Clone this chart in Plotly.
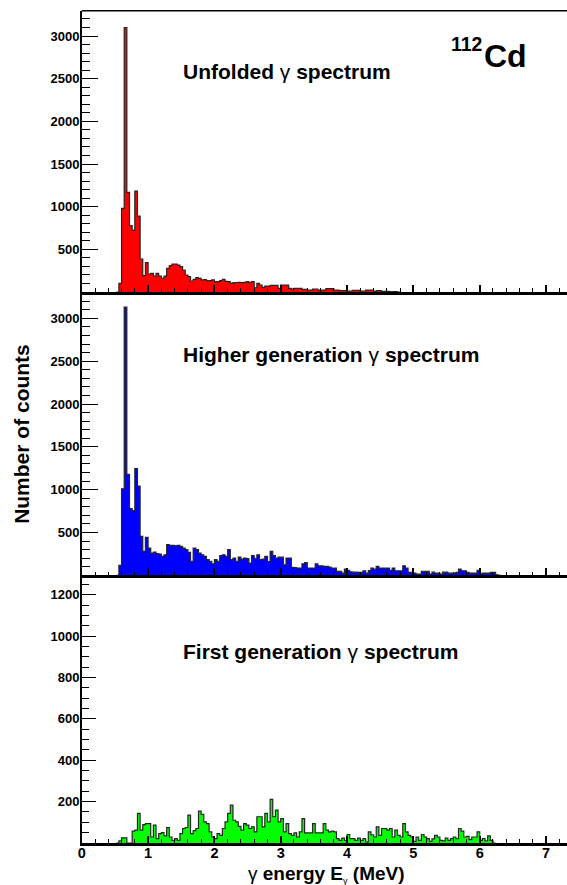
import plotly.graph_objects as go

# ---------------- data (counts per 40 keV bin, bins start at 0.52 MeV) ----------------
bin_start = 0.52
bin_width = 0.04

unfolded = [0, 101, 980, 3100, 1168, 777, 726, 1183, 890, 387, 191, 344, 211, 219, 187, 219,
            187, 160, 187, 277, 308, 328, 328, 316, 297, 258, 199, 180, 129, 148, 168, 160,
            141, 145, 133, 133, 141, 121, 121, 133, 148, 125, 121, 101, 110, 110, 113, 110,
            113, 121, 110, 121, 50, 100, 82, 55, 70, 70, 78, 78, 78, 43, 82, 82,
            82, 43, 35, 43, 43, 43, 31, 31, 23, 23, 35, 35, 23, 23, 23, 39,
            39, 39, 23, 23, 16, 16, 16, 12, 12, 20, 20, 20, 12, 12, 23, 23,
            23, 8, 16, 16, 8, 8, 8, 4, 4, 4, 0]

higher_gen = [0, 117, 1010, 3131, 1178, 780, 757, 1245, 1042, 456, 280, 444, 319, 261, 272, 253,
              249, 222, 241, 358, 350, 350, 346, 350, 339, 319, 300, 269, 163, 319, 300, 261,
              241, 222, 183, 163, 136, 183, 163, 230, 241, 222, 300, 183, 202, 163, 214, 191,
              202, 195, 144, 230, 200, 240, 183, 190, 222, 160, 280, 230, 202, 213, 213, 124,
              202, 202, 93, 90, 85, 85, 136, 150, 85, 85, 85, 136, 112, 112, 105, 105,
              97, 85, 85, 46, 46, 27, 73, 60, 42, 38, 38, 35, 35, 54, 27, 56,
              85, 73, 105, 85, 85, 85, 85, 58, 85, 54, 54, 54, 112, 85, 35, 35,
              27, 15, 15, 46, 46, 46, 15, 38, 27, 27, 15, 38, 38, 27, 27, 27,
              35, 73, 54, 54, 35, 27, 27, 27, 58, 20, 27, 27, 27, 35, 35, 7, 0]

first_gen = [0, 10, 25, 25, 0, 0, 57, 62, 143, 62, 89, 94, 94, 29, 86, 21,
             45, 50, 34, 75, 29, 13, 21, 13, 45, 70, 75, 135, 45, 60, 70, 154,
             138, 102, 94, 54, 29, 21, 45, 37, 70, 102, 143, 183, 110, 102, 80, 62,
             94, 86, 70, 78, 54, 127, 127, 78, 143, 102, 211, 127, 159, 102, 118, 54,
             94, 45, 37, 49, 29, 54, 118, 49, 49, 49, 94, 49, 49, 49, 94, 62,
             54, 57, 54, 21, 13, 24, 13, 41, 21, 21, 13, 24, 13, 21, 5, 54,
             40, 29, 78, 37, 70, 70, 62, 70, 29, 62, 37, 29, 94, 54, 37, 29,
             8, 29, 13, 41, 29, 21, 8, 20, 37, 29, 13, 10, 24, 13, 21, 29,
             21, 70, 57, 29, 32, 16, 29, 29, 54, 13, 21, 10, 34, 13, 0]

x_ticks = [0, 1, 2, 3, 4, 5, 6, 7]
y_ticks_top = [500, 1000, 1500, 2000, 2500, 3000]
y_ticks_bottom = [200, 400, 600, 800, 1000, 1200]

panel_labels = ["<b>Unfolded</b> γ <b>spectrum</b>",
                "<b>Higher generation</b> γ <b>spectrum</b>",
                "<b>First generation</b> γ <b>spectrum</b>"]

# ---------------- layout helpers ----------------
W, H = 567, 885
FONT = "Liberation Sans, Arial, Helvetica, sans-serif"
X_MAX = 7.316


def px_x(p):
    return p / W


def px_y(p):
    return 1 - p / H


def edges(vals):
    xs = [bin_start + bin_width * i for i in range(len(vals) + 1)]
    ys = list(vals) + [vals[-1]]
    return xs, ys


fig = go.Figure()

# red -> top panel (x3, y), blue -> middle (x2, y2), green -> bottom (x, y3)
series = [(unfolded, "#ff0000", "x3", "y"), (higher_gen, "#0000ff", "x2", "y2"),
          (first_gen, "#00ff00", "x", "y3")]
for vals, col, xax, yax in series:
    xs, ys = edges(vals)
    fig.add_trace(go.Scatter(x=xs, y=ys, mode="lines",
                             line=dict(shape="hv", color="#262626", width=1.2),
                             fill="tozeroy", fillcolor=col, xaxis=xax, yaxis=yax,
                             showlegend=False, hoverinfo="skip"))

x_left = 78.3
dom_x = [px_x(x_left), 1.0]
p1 = [px_y(292.0), px_y(10.7)]
p2 = [px_y(575.4), px_y(292.0)]
p3 = [px_y(843.0), px_y(575.4)]

minor_x = dict(dtick=0.2, tick0=0, ticks="inside", ticklen=3.8, tickwidth=1.2, tickcolor="black")


def x_axis(anchor, labels):
    d = dict(domain=dom_x, range=[0, X_MAX], anchor=anchor, showline=True, linecolor="black",
             linewidth=2.5, mirror=False, ticks="inside", ticklen=7.5, tickwidth=1.5,
             tickcolor="black", tickvals=x_ticks, ticktext=[str(v) for v in x_ticks],
             minor=minor_x, showgrid=False, zeroline=False, showticklabels=labels,
             ticklabelstandoff=-5,
             tickfont=dict(family=FONT, size=14.5, color="black", weight="bold"))
    return d


def y_axis(domain, rng, tickvals, ticklen, minor_dtick, minor_len):
    return dict(domain=domain, range=rng, tickvals=tickvals, ticklen=ticklen,
                minor=dict(dtick=minor_dtick, tick0=0, ticks="inside", ticklen=minor_len,
                           tickwidth=1.2, tickcolor="black"),
                showline=True, linecolor="black", linewidth=1.5, ticks="inside",
                tickcolor="black", tickwidth=1.4, showgrid=False, zeroline=False,
                ticklabelstandoff=-2,
                tickfont=dict(family=FONT, size=13, color="black", weight="bold"))


ax1 = x_axis("y3", True)
ax2 = x_axis("y2", False)
ax2["matches"] = "x"
ax3 = x_axis("y", False)
ax3["matches"] = "x"

ya1 = y_axis(p1, [0, 3297], y_ticks_top, 17, 100, 8.5)
ya1["anchor"] = "x3"
ya2 = y_axis(p2, [0, 3307], y_ticks_top, 17, 100, 8.5)
ya2["anchor"] = "x2"
ya3 = y_axis(p3, [0, 1294], y_ticks_bottom, 14.5, 50, 7.2)
ya3["anchor"] = "x"

fig.update_layout(
    width=W, height=H, margin=dict(l=0, r=0, t=0, b=0),
    paper_bgcolor="white", plot_bgcolor="white",
    xaxis=ax1, xaxis2=ax2, xaxis3=ax3,
    yaxis=ya1, yaxis2=ya2, yaxis3=ya3,
)

# top frame of the upper panel
fig.add_shape(type="line", xref="paper", yref="paper", x0=dom_x[0], x1=1.0, y0=p1[1], y1=p1[1],
              line=dict(color="black", width=1.6))

annotations = []
for label, ypx in zip(panel_labels, [71.0, 354.0, 651.0]):
    annotations.append(dict(text=label, x=px_x(179), y=px_y(ypx), xref="paper", yref="paper",
                            xanchor="left", yanchor="middle", showarrow=False, borderpad=0,
                            font=dict(family=FONT, size=21, color="black")))
annotations.append(dict(text="<b>112</b>", x=px_x(449), y=px_y(43.5), xref="paper", yref="paper",
                        xanchor="left", yanchor="middle", showarrow=False, borderpad=0,
                        font=dict(family=FONT, size=19.5, color="black")))
annotations.append(dict(text="<b>Cd</b>", x=px_x(482), y=px_y(55.5), xref="paper", yref="paper",
                        xanchor="left", yanchor="middle", showarrow=False, borderpad=0,
                        font=dict(family=FONT, size=32, color="black")))
annotations.append(dict(text="<b>Number of counts</b>", x=px_x(18), y=px_y(434), xref="paper",
                        yref="paper", xanchor="center", yanchor="middle", textangle=-90,
                        showarrow=False, borderpad=0,
                        font=dict(family=FONT, size=21, color="black")))
annotations.append(dict(text="γ <b>energy E</b><sub><span style='font-size:9px'>γ</span></sub><b> (MeV)</b>",
                        x=px_x(325), y=px_y(874),
                        xref="paper", yref="paper", xanchor="center", yanchor="middle",
                        showarrow=False, borderpad=0,
                        font=dict(family=FONT, size=19, color="black")))
fig.update_layout(annotations=annotations)

fig.write_html("out.html")
